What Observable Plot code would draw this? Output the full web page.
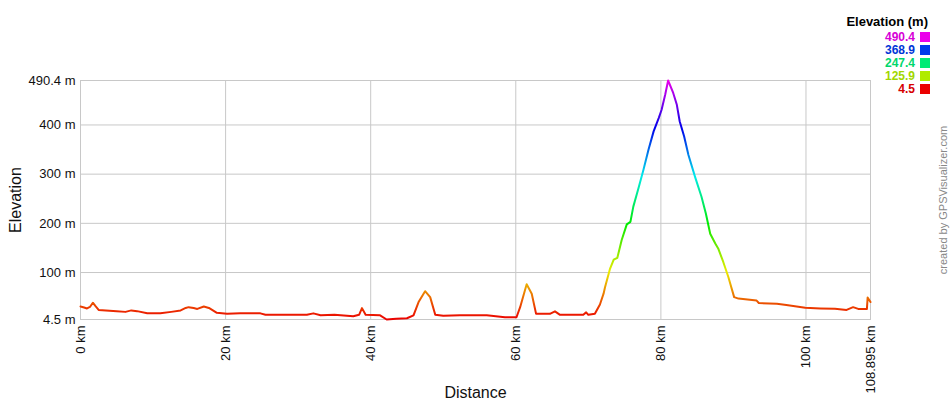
<!DOCTYPE html>
<html>
<head>
<meta charset="utf-8">
<script src="https://cdn.jsdelivr.net/npm/d3@7"></script>
<script src="https://cdn.jsdelivr.net/npm/@observablehq/plot@0.6"></script>
<style>
  body { margin: 0; background: #fff; }
  #wrap { position: relative; width: 950px; height: 400px; font-family: Arial, "Liberation Sans", sans-serif; }
  .lg { position: absolute; font-weight: bold; white-space: nowrap; }
</style>
</head>
<body>
<div id="wrap"></div>
<script>
const distance = [0, 0.5, 0.9, 1.3, 1.7, 2.1, 2.5, 3.5, 5, 6.2, 7, 7.8, 9.2, 11, 12.5, 13.8, 14.5, 14.9, 15.6, 16.1, 17, 17.7, 18.8, 20.2, 22, 24.8, 25.5, 28, 31.2, 32.1, 33.1, 35, 37.6, 38.4, 38.8, 39.3, 41.3, 42.2, 43.5, 45, 45.9, 46.6, 47.5, 48.2, 48.9, 50, 52.3, 56, 58.5, 60.1, 60.6, 61.5, 62.2, 62.8, 64.7, 65.4, 66.1, 69.3, 69.7, 70, 70.9, 71.6, 72.1, 72.3, 73, 73.5, 74, 74.6, 75.3, 75.8, 76.2, 76.9, 77.6, 78.3, 79, 79.7, 80.1, 80.6, 81, 81.7, 82.2, 82.6, 83.2, 83.8, 84.7, 85.6, 86.2, 86.8, 87.5, 87.9, 88.6, 89.3, 90.1, 90.7, 93.2, 93.5, 96, 97.3, 99.9, 102, 104, 105.6, 106.5, 107.2, 108.4, 108.5, 108.895];
const elevation = [31, 29, 27, 30, 38.6, 31, 24, 23, 21.5, 20, 23, 21.5, 17.4, 17, 20, 22.9, 28, 29.6, 28, 26, 31, 28, 18, 16, 17, 17, 14, 14, 14, 17, 13, 14, 11, 14, 27.6, 14, 13, 4.5, 6, 7, 13, 40, 62, 50, 14, 12, 13, 13, 9, 9, 29.6, 76, 57, 16, 16, 21, 14, 14, 19, 14, 16, 35, 57, 70, 108, 126, 130, 166, 198, 203, 234, 271, 309, 350, 387, 414, 431, 462, 490.4, 465, 441, 407, 377, 339, 295, 254, 220, 179, 159, 149, 121.5, 91, 50, 47, 43, 38, 36.5, 34, 28.4, 27, 26.3, 24, 29.6, 26, 26, 49, 40];

const xTicks = [0, 20, 40, 60, 80, 100, 108.895];
const yTicks = [4.5, 100, 200, 300, 400, 490.4];
const legendValues = [490.4, 368.9, 247.4, 125.9, 4.5];

const profile = distance.map((d, i) => ({d, e: elevation[i]}));
const eMin = d3.min(elevation), eMax = d3.max(elevation);
const interp = t => d3.hsl(300 * t, 1, 0.46).formatHex();
const colorOf = v => interp((v - eMin) / (eMax - eMin));

const gradientDefs = (index, scales) => {
  const defs = d3.create("svg:defs");
  const g = defs.append("linearGradient")
    .attr("id", "elevGrad")
    .attr("gradientUnits", "userSpaceOnUse")
    .attr("x1", 0).attr("x2", 0)
    .attr("y1", scales.y(eMin)).attr("y2", scales.y(eMax));
  d3.range(0, 41).forEach(i => {
    g.append("stop").attr("offset", i / 40).attr("stop-color", interp(i / 40));
  });
  return defs.node();
};

const chart = Plot.plot({
  width: 950,
  height: 400,
  marginLeft: 80,
  marginRight: 80,
  marginTop: 80,
  marginBottom: 81,
  style: {fontFamily: 'Arial, "Liberation Sans", sans-serif', fontSize: "13px", color: "#111", background: "white"},
  x: {domain: [0, 108.895]},
  y: {domain: [4.5, 490.4]},
  marks: [
    Plot.gridX(xTicks, {stroke: "#c8c8c8", strokeOpacity: 1}),
    Plot.gridY(yTicks, {stroke: "#c8c8c8", strokeOpacity: 1}),
    Plot.frame({stroke: "#c8c8c8"}),
    Plot.axisY(yTicks, {tickSize: 0, tickPadding: 5, tickFormat: d => d + " m", label: null}),
    Plot.axisX(xTicks, {tickSize: 0, tickPadding: 6, tickRotate: -90, tickFormat: d => d + " km", label: null}),
    gradientDefs,
    Plot.line(profile, {x: "d", y: "e", stroke: "url(#elevGrad)", strokeWidth: 2}),
    Plot.text(["Elevation"], {frameAnchor: "left", dx: -65, rotate: -90, fontSize: 16, textAnchor: "middle", lineAnchor: "middle"}),
    Plot.text(["Distance"], {frameAnchor: "bottom", dy: 73, fontSize: 16, textAnchor: "middle", lineAnchor: "middle"}),
    Plot.text(["created by GPSVisualizer.com"], {frameAnchor: "right", dx: 73, rotate: -90, fontSize: 11, fill: "#888", textAnchor: "middle", lineAnchor: "middle"})
  ]
});

const wrap = document.getElementById("wrap");
wrap.appendChild(chart);

const title = document.createElement("div");
title.className = "lg";
title.textContent = "Elevation (m)";
Object.assign(title.style, {right: "22px", top: "15px", fontSize: "13px", lineHeight: "14px", color: "#000"});
wrap.appendChild(title);

legendValues.forEach((v, i) => {
  const c = colorOf(v);
  const t = document.createElement("div");
  t.className = "lg";
  t.textContent = String(v);
  Object.assign(t.style, {right: "35px", top: (30 + 13 * i) + "px", fontSize: "12px", lineHeight: "14px", color: d3.color(c).darker(0.25).formatHex()});
  wrap.appendChild(t);
  const s = document.createElement("div");
  Object.assign(s.style, {position: "absolute", left: "920px", top: (32 + 13 * i) + "px", width: "10px", height: "10px", background: c});
  wrap.appendChild(s);
});
</script>
</body>
</html>
